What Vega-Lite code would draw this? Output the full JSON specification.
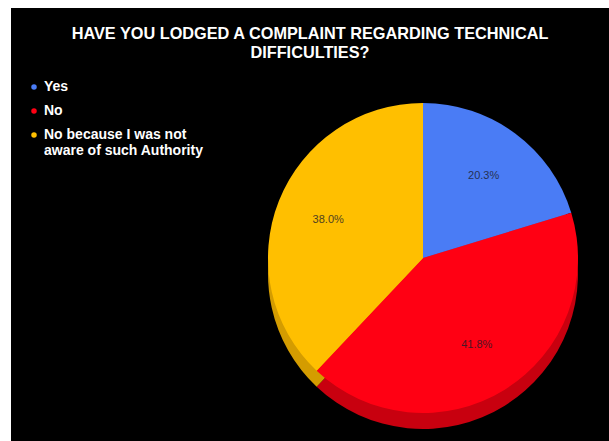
{
  "$schema": "https://vega.github.io/schema/vega-lite/v6.json",
  "width": 609,
  "height": 441,
  "autosize": {"type": "fit", "contains": "padding"},
  "padding": {"left": 11, "top": 8, "right": 0, "bottom": 0},
  "background": "white",
  "view": {"fill": "#000000", "fillOpacity": 1, "stroke": null},
  "config": {"font": "Liberation Sans"},
  "title": {
    "text": ["HAVE YOU LODGED A COMPLAINT REGARDING TECHNICAL", "DIFFICULTIES?"],
    "color": "white",
    "fontSize": 16.3,
    "fontWeight": "bold",
    "font": "Liberation Sans",
    "anchor": "middle",
    "frame": "group",
    "lineHeight": 19,
    "offset": -53
  },
  "data": {
    "values": [
      {"answer": "Yes", "share": 0.203, "idx": 1, "side": "Yes side"},
      {"answer": "No", "share": 0.418, "idx": 2, "side": "No side"},
      {"answer": "No because I was not aware of such Authority", "share": 0.380, "idx": 3, "side": "Aware side"}
    ]
  },
  "encoding": {
    "theta": {"field": "share", "type": "quantitative", "stack": true},
    "order": {"field": "idx", "type": "quantitative"}
  },
  "layer": [
    {
      "mark": {"type": "arc", "outerRadius": 155, "x": 412, "y": 250, "yOffset": 16},
      "encoding": {
        "color": {
          "field": "side",
          "type": "nominal",
          "scale": {"domain": ["Yes side", "No side", "Aware side"], "range": ["#3a62c8", "#c8000f", "#d49c00"]},
          "legend": null
        }
      }
    },
    {
      "mark": {"type": "arc", "outerRadius": 155, "x": 412, "y": 250},
      "encoding": {
        "color": {
          "field": "answer",
          "type": "nominal",
          "scale": {
            "domain": ["Yes", "No", "No because I was not aware of such Authority"],
            "range": ["#4a7cf5", "#ff0013", "#ffbf00"]
          },
          "legend": {
            "title": null,
            "orient": "none",
            "legendX": 16,
            "legendY": 72,
            "symbolType": "circle",
            "symbolSize": 30,
            "symbolStrokeWidth": 0,
            "labelColor": "white",
            "labelFontSize": 14,
            "labelFontWeight": "bold",
            "labelFont": "Liberation Sans",
            "labelLimit": 300,
            "rowPadding": 10,
            "labelOffset": 3,
            "labelExpr": "datum.label == 'No because I was not aware of such Authority' ? ['No because I was not', 'aware of such Authority'] : datum.label"
          }
        }
      }
    },
    {
      "mark": {"type": "text", "radius": 102, "x": 412, "y": 250, "fontSize": 11, "fill": "#1c1c2a", "opacity": 0.8},
      "encoding": {
        "text": {"field": "share", "type": "quantitative", "format": ".1%"}
      }
    }
  ],
  "resolve": {"scale": {"color": "independent"}}
}
